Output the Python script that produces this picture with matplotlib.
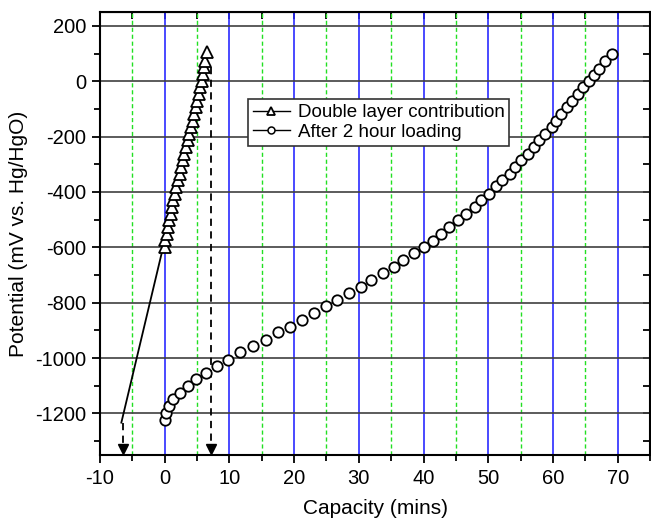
import matplotlib
matplotlib.use("Agg")
import matplotlib.pyplot as plt
from matplotlib.lines import Line2D
from matplotlib.ticker import MultipleLocator
import numpy as np

plt.rcParams["font.family"] = ["Liberation Sans", "DejaVu Sans"]
plt.rcParams["axes.unicode_minus"] = False

# double layer contribution (triangles)
dl_x = [0.1, 0.1, 0.3, 0.5, 0.7, 0.9, 1.1, 1.3, 1.55, 1.8,
        2.05, 2.3, 2.55, 2.8, 3.05, 3.3, 3.55, 3.8, 4.05, 4.3,
        4.55, 4.8, 5.05, 5.3, 5.5, 5.7, 5.9, 6.1, 6.3, 6.5]
dl_y = [-598, -574, -550, -526, -502, -478, -454, -430, -406, -382,
        -358, -334, -310, -286, -262, -238, -214, -190, -166, -142,
        -118, -94, -70, -46, -22, 2, 26, 50, 74, 105]

# extrapolation of the double layer line
fit_x = [-6.7, 0.0]
fit_y = [-1233, -575]

# after 2 hour loading (circles)
ld_x = [0.0, 0.2, 0.6, 1.35, 2.4, 3.6, 4.9, 6.45, 8.1, 9.85,
        11.7, 13.6, 15.6, 17.5, 19.4, 21.2, 23.0, 24.9, 26.7, 28.5,
        30.3, 31.95, 33.7, 35.4, 36.9, 38.6, 40.0, 41.4, 42.7, 44.0,
        45.3, 46.6, 47.9, 48.95, 50.1, 51.15, 52.1, 53.3, 54.2, 55.1,
        56.1, 57.0, 57.9, 58.8, 59.8, 60.5, 61.3, 62.2, 63.0, 63.9,
        64.7, 65.5, 66.3, 67.1, 68.1, 69.2]
ld_y = [-1224, -1197, -1174, -1147, -1126, -1102, -1077, -1053, -1030, -1006,
        -979, -958, -934, -907, -886, -862, -838, -811, -790, -766,
        -742, -718, -694, -670, -646, -622, -598, -576, -552, -526,
        -502, -478, -454, -430, -406, -379, -355, -334, -310, -283,
        -262, -238, -214, -190, -166, -142, -118, -94, -70, -46,
        -22, 0, 22, 46, 72, 98]

# dashed drop lines to the capacity axis
arrow_x = [-6.5, 7.1]
arrow_top = [-1233, 50]
arrow_tip = -1328

XLIM = (-10, 75)
YLIM = (-1350, 250)

fig = plt.figure(figsize=(6.51, 5.23), dpi=100)
ax = fig.add_axes([0.1536, 0.13, 0.8449, 0.847])

ax.set_xlim(*XLIM)
ax.set_ylim(*YLIM)
ax.xaxis.set_major_locator(MultipleLocator(10))
ax.xaxis.set_minor_locator(MultipleLocator(5))
ax.yaxis.set_major_locator(MultipleLocator(200))
ax.yaxis.set_minor_locator(MultipleLocator(100))

ax.set_axisbelow(True)
ax.grid(which="major", axis="x", color="#2b2bff", lw=1.2)
ax.grid(which="minor", axis="x", color="#22e022", lw=1.0, ls=(0, (3, 2)))
ax.grid(which="major", axis="y", color="#404040", lw=1.2)

ax.plot(fit_x, fit_y, color="k", lw=1.3, zorder=3)
ax.plot(dl_x, dl_y, color="k", lw=1.0, marker="^", ms=8.5, mfc="white",
        mec="k", mew=1.3, zorder=4)
ax.plot(ld_x, ld_y, ls="none", marker="o", ms=7.5, mfc="white",
        mec="k", mew=1.3, zorder=4)

for xa, ya in zip(arrow_x, arrow_top):
    ax.plot([xa, xa], [ya, arrow_tip], color="k", lw=1.3, ls=(0, (4, 3)), zorder=3)
    ax.plot([xa], [arrow_tip], marker="v", ms=7, color="k", zorder=3)

for s in ax.spines.values():
    s.set_linewidth(1.5)

ax.tick_params(which="major", direction="out", length=6, width=1.3,
               labelsize=14.5, pad=4)
ax.tick_params(which="minor", direction="out", length=4, width=1.3)

# mirrored inward ticks on top and right
top = ax.secondary_xaxis("top")
top.xaxis.set_major_locator(MultipleLocator(5))
top.tick_params(direction="in", length=5, width=1.3)
top.set_xticklabels([])
right = ax.secondary_yaxis("right")
right.yaxis.set_major_locator(MultipleLocator(100))
right.tick_params(direction="in", length=5, width=1.3)
right.set_yticklabels([])

ax.set_xlabel("Capacity (mins)", fontsize=15)
ax.set_ylabel("Potential (mV vs. Hg/HgO)", fontsize=15)
ax.xaxis.set_label_coords(0.5, -0.10)
ax.yaxis.set_label_coords(-0.13, 0.5)

handles = [
    Line2D([], [], color="k", lw=1.0, marker="^", ms=6, mfc="white", mec="k", mew=1.3),
    Line2D([], [], color="k", lw=1.0, marker="o", ms=5, mfc="white", mec="k", mew=1.1),
]
leg = ax.legend(handles, ["Double layer contribution", "After 2 hour loading"],
                loc="upper left", bbox_to_anchor=(0.269, 0.803), fontsize=13.5,
                frameon=True, fancybox=False, framealpha=1, edgecolor="#333333",
                handlelength=2.0, handletextpad=0.4, borderpad=0.25,
                labelspacing=0.15, borderaxespad=0)
leg.get_frame().set_linewidth(1.2)

fig.savefig("out.png", dpi=100)
